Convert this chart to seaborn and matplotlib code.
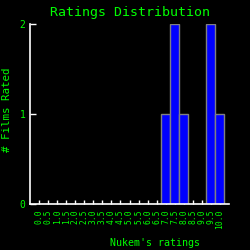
import matplotlib
matplotlib.use("Agg")
import matplotlib.pyplot as plt
import seaborn as sns

# rating buckets and number of films in each
ratings = ["0.0", "0.5", "1.0", "1.5", "2.0", "2.5", "3.0", "3.5", "4.0", "4.5",
           "5.0", "5.5", "6.0", "6.5", "7.0", "7.5", "8.0", "8.5", "9.0", "9.5", "10.0"]
counts = [0, 0, 0, 0, 0, 0, 0, 0, 0, 0,
          0, 0, 0, 0, 1, 2, 1, 0, 0, 2, 1]

sns.set_style("dark")
plt.rcParams["font.family"] = ["DejaVu Sans Mono"]

green = "#00ff00"
fig = plt.figure(figsize=(2.5, 2.5), dpi=100, facecolor="black")
ax = fig.add_axes([0.121, 0.183, 0.794, 0.72])
ax.set_facecolor("black")

sns.barplot(x=ratings, y=counts, width=1, color="#0000ff", saturation=1,
            edgecolor="#808080", linewidth=1, ax=ax)

ax.set_xlim(-1, 21)
ax.set_ylim(0, 2)
ax.set_yticks([0, 1, 2])
ax.set_axisbelow(True)
ax.grid(False)

for s in ["top", "right"]:
    ax.spines[s].set_visible(False)
for s in ["left", "bottom"]:
    ax.spines[s].set_color("white")
    ax.spines[s].set_linewidth(1.2)

ax.tick_params(axis="x", direction="in", length=3, width=1, color="white",
               labelcolor=green, labelsize=5.8, labelrotation=90, pad=4, bottom=True)
ax.tick_params(axis="y", direction="in", length=4, width=1, color="white",
               labelcolor=green, labelsize=7, pad=3.5, left=True)

ax.set_title("Ratings Distribution", color=green, fontsize=9.5, pad=6)
ax.set_xlabel("Nukem's ratings", color=green, fontsize=7.2)
ax.set_ylabel("# Films Rated", color=green, fontsize=7.8)
ax.xaxis.set_label_coords(0.63, -0.19)
ax.yaxis.set_label_coords(-0.09, 0.524)

fig.savefig("out.png", dpi=100, facecolor="black")
